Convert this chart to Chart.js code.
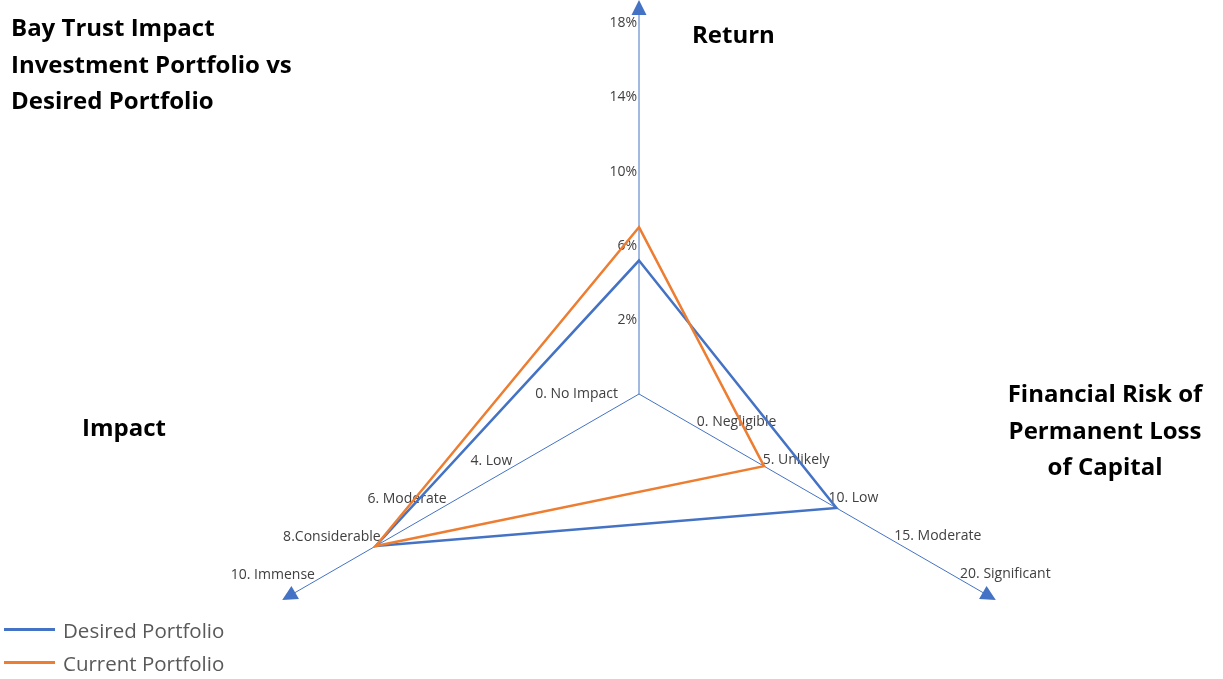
<!DOCTYPE html>
<html>
<head>
<meta charset="utf-8">
<title>Bay Trust Impact Investment Portfolio vs Desired Portfolio</title>
<script src="https://cdn.jsdelivr.net/npm/chart.js@4.4.1/dist/chart.umd.min.js"></script>
<style>
  html, body { margin: 0; padding: 0; background: #fff; overflow: hidden; }
  #page { position: relative; width: 1223px; height: 679px; overflow: hidden; }
  #chartBox { position: absolute; left: 0; top: 0; width: 1223px; height: 800px; }
  .heading {
    position: absolute;
    font-family: "Open Sans", sans-serif;
    font-weight: 700;
    font-size: 24px;
    line-height: 36.5px;
    color: #000;
    white-space: nowrap;
  }
  #legend {
    position: absolute; left: 4px; top: 613px;
    font-family: "Open Sans", sans-serif; font-size: 20.5px; color: #595959;
  }
  .legend-item { display: flex; align-items: center; height: 33px; }
  .legend-line { width: 51px; height: 2.5px; margin-right: 8px; }
</style>
</head>
<body>
<div id="page">
  <div id="chartBox"><canvas id="radarChart"></canvas></div>
  <div class="heading" style="left:11px; top:9px;">Bay Trust Impact<br>Investment Portfolio vs<br>Desired Portfolio</div>
  <div class="heading" style="left:692px; top:16px;">Return</div>
  <div class="heading" style="left:82px; top:409px;">Impact</div>
  <div class="heading" style="left:965px; top:375px; width:280px; text-align:center;">Financial Risk of<br>Permanent Loss<br>of Capital</div>
  <div id="legend"></div>
</div>
<script>
// Axes, clockwise from the top
const axisNames = ['Return', 'Financial Risk of Permanent Loss of Capital', 'Impact'];
const desiredValues = [5.2, 10, 8];
const currentValues = [7, 4.5, 8];

// Range of each axis (value at centre, value at the arrow)
const axisMin = [-2, -5, 0];
const axisMax = [18.5, 20, 10];

const returnTicks = [2, 6, 10, 14, 18];
const returnTickLabels = ['2%', '6%', '10%', '14%', '18%'];
const riskTicks = [0, 5, 10, 15, 20];
const riskTickLabels = ['0. Negligible', '5. Unlikely', '10. Low', '15. Moderate', '20. Significant'];
const impactTicks = [0, 4, 6, 8, 10];
const impactTickLabels = ['0. No Impact', '4. Low', '6. Moderate', '8.Considerable', '10. Immense'];

const BLUE = '#4472C4';
const ORANGE = '#ED7D31';

// every axis has its own range, the radial scale runs 0..1
function toRadius(axis, v) {
  return (v - axisMin[axis]) / (axisMax[axis] - axisMin[axis]);
}

const axisDecor = {
  id: 'axisDecor',
  beforeDatasetsDraw(chart) {
    const scale = chart.scales.r;
    const ctx = chart.ctx;
    const tickSets = [
      [returnTicks, returnTickLabels],
      [riskTicks, riskTickLabels],
      [impactTicks, impactTickLabels]
    ];
    ctx.save();
    ctx.font = '14px "Open Sans"';
    ctx.fillStyle = '#404040';
    ctx.textBaseline = 'middle';
    tickSets.forEach(([ticks, labels], axis) => {
      ticks.forEach((v, j) => {
        const d = scale.getDistanceFromCenterForValue(toRadius(axis, v));
        const p = scale.getPointPosition(axis, d);
        let x = p.x, y = p.y;
        if (axis === 0) {
          ctx.textAlign = 'right'; x -= 2;
        } else if (axis === 1) {
          ctx.textAlign = 'left'; x -= 8; y -= 10;
        } else if (d < 5) {
          ctx.textAlign = 'right'; x -= 21;
        } else {
          ctx.textAlign = 'right'; x += 5; y -= 9;
        }
        ctx.fillText(labels[j], x, y);
      });
    });

    // the two lower axes run on a little past the scale, as in the original
    ctx.strokeStyle = BLUE;
    ctx.lineWidth = 1;
    for (let i = 1; i < axisNames.length; i++) {
      const a = scale.getPointPosition(i, scale.drawingArea);
      const b = scale.getPointPosition(i, scale.drawingArea + 18);
      ctx.beginPath();
      ctx.moveTo(a.x, a.y);
      ctx.lineTo(b.x, b.y);
      ctx.stroke();
    }
    ctx.restore();
  },
  afterDraw(chart) {
    // arrow heads at the end of each axis
    const scale = chart.scales.r;
    const ctx = chart.ctx;
    ctx.save();
    ctx.fillStyle = BLUE;
    for (let i = 0; i < axisNames.length; i++) {
      const end = scale.drawingArea + (i === 0 ? 0 : 18);
      const base = scale.getPointPosition(i, end - 1);
      const tip = scale.getPointPosition(i, end + 14);
      const nx = -Math.sin(base.angle) * 7.5;
      const ny = Math.cos(base.angle) * 7.5;
      ctx.beginPath();
      ctx.moveTo(tip.x, tip.y);
      ctx.lineTo(base.x + nx, base.y + ny);
      ctx.lineTo(base.x - nx, base.y - ny);
      ctx.closePath();
      ctx.fill();
    }
    ctx.restore();
  }
};

const ctx = document.getElementById('radarChart').getContext('2d');
const radarChart = new Chart(ctx, {
  type: 'radar',
  data: {
    labels: axisNames,
    datasets: [{
      label: 'Desired Portfolio',
      data: desiredValues.map((v, i) => toRadius(i, v)),
      borderColor: BLUE,
      backgroundColor: 'transparent',
      order: 1
    }, {
      label: 'Current Portfolio',
      data: currentValues.map((v, i) => toRadius(i, v)),
      borderColor: ORANGE,
      backgroundColor: 'transparent',
      order: 0
    }]
  },
  options: {
    responsive: true,
    maintainAspectRatio: false,
    animation: false,
    layout: { padding: { top: 14, bottom: 26, left: 55, right: 0 } },
    elements: {
      line: { borderWidth: 2.5, tension: 0, fill: false, borderJoinStyle: 'miter' },
      point: { radius: 0, hoverRadius: 0, hitRadius: 0 }
    },
    scales: {
      r: {
        min: 0,
        max: 1,
        startAngle: 0,
        ticks: { display: false },
        grid: { display: false },
        pointLabels: { display: false },
        angleLines: { color: BLUE, lineWidth: 1 }
      }
    },
    plugins: {
      legend: { display: false },
      tooltip: { enabled: false }
    }
  },
  plugins: [axisDecor]
});

// legend, one row per series
const legendBox = document.getElementById('legend');
radarChart.data.datasets.forEach(ds => {
  const item = document.createElement('div');
  item.className = 'legend-item';
  const line = document.createElement('div');
  line.className = 'legend-line';
  line.style.backgroundColor = ds.borderColor;
  const text = document.createElement('span');
  text.textContent = ds.label;
  item.appendChild(line);
  item.appendChild(text);
  legendBox.appendChild(item);
});
</script>
</body>
</html>
